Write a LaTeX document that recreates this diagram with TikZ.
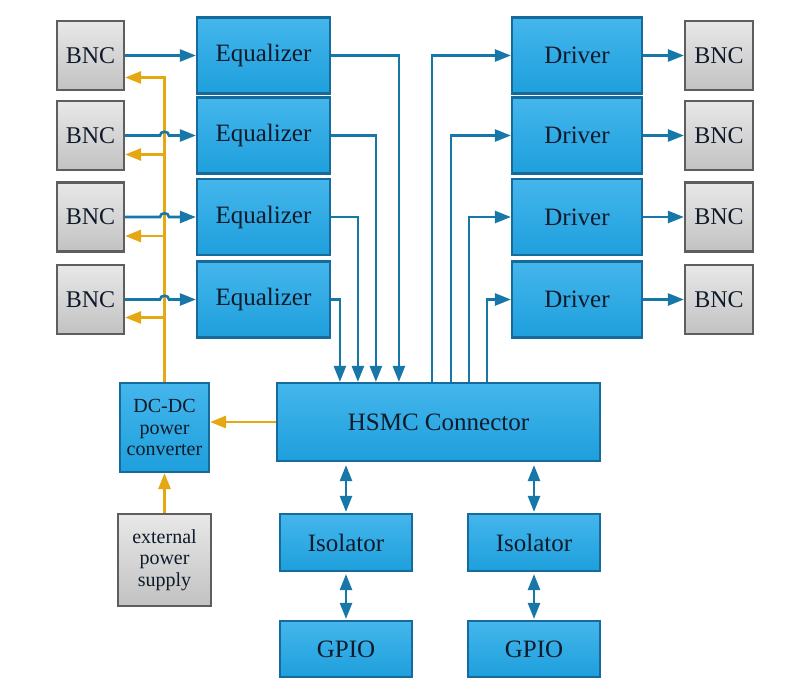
\documentclass[tikz,border=0pt]{standalone}
\usepackage{fontspec}
\setmainfont{Liberation Serif}
\usetikzlibrary{arrows.meta}
\definecolor{bfillT}{HTML}{44B6EC}
\definecolor{bfillB}{HTML}{1E9FDC}
\definecolor{bdraw}{HTML}{176B9C}
\definecolor{gfillT}{HTML}{E8E8E8}
\definecolor{gfillB}{HTML}{C2C2C2}
\definecolor{gdraw}{HTML}{5E5E5E}
\definecolor{lineblue}{HTML}{1777A8}
\definecolor{lineyel}{HTML}{E5A712}
\definecolor{txt}{HTML}{0F1B2A}
\tikzset{
  >={Triangle[length=16pt,width=12pt]},
  bluebox/.style={draw=bdraw, line width=2.2pt, top color=bfillT, bottom color=bfillB,
    text=txt, font=\fontsize{25}{28}\selectfont, inner sep=0pt, align=center},
  graybox/.style={draw=gdraw, line width=2.2pt, top color=gfillT, bottom color=gfillB,
    text=txt, font=\fontsize{24}{28}\selectfont, inner sep=0pt, align=center},
  smalltext/.style={font=\fontsize{20}{21.5}\selectfont},
  bline/.style={draw=lineblue, line width=2.6pt},
  yline/.style={draw=lineyel, line width=2.8pt},
}
\begin{document}
\begin{tikzpicture}[x=1pt,y=-1pt]
\useasboundingbox (0,0) rectangle (800,698);
% rows of BNC / Equalizer / Driver / BNC
\foreach \i/\y in {1/55.5,2/135.5,3/217,4/299.5}{
  \node[graybox, minimum width=67pt, minimum height=69pt] (bncL\i) at (90.5,\y) {BNC};
  \node[bluebox, minimum width=133pt, minimum height=76pt] (eq\i) at (263.5,\y) {Equalizer};
  \node[bluebox, minimum width=130pt, minimum height=76pt] (drv\i) at (577,\y) {Driver};
  \node[graybox, minimum width=68pt, minimum height=69pt] (bncR\i) at (719,\y) {BNC};
}
\node[bluebox, minimum width=323pt, minimum height=78pt] (hsmc) at (438.5,422) {HSMC Connector};
\node[bluebox, smalltext, minimum width=89pt, minimum height=89pt] (dcdc) at (164.5,427.5) {DC-DC\\power\\converter};
\node[graybox, smalltext, minimum width=93pt, minimum height=92pt] (ext) at (164.5,560) {external\\power\\supply};
\node[bluebox, minimum width=132pt, minimum height=57pt] (iso1) at (346,542.5) {Isolator};
\node[bluebox, minimum width=132pt, minimum height=57pt] (iso2) at (534,542.5) {Isolator};
\node[bluebox, minimum width=132pt, minimum height=56pt] (gpio1) at (346,649) {GPIO};
\node[bluebox, minimum width=132pt, minimum height=56pt] (gpio2) at (534,649) {GPIO};

% coordinates on HSMC top edge
\foreach \n/\dx in {i1/123,i2/100,i3/82,i4/64,o1/156,o2/175,o3/193,o4/211}{
  \path (hsmc.north west) ++(\dx,0) coordinate (\n);
}
% yellow power lines
\coordinate (y1) at ([yshift=-22pt]bncL1.east);
\coordinate (y2) at ([yshift=-19pt]bncL2.east);
\coordinate (y3) at ([yshift=-19pt]bncL3.east);
\coordinate (y4) at ([yshift=-18pt]bncL4.east);
\draw[yline,->] (dcdc.north) |- (y1);
\foreach \k in {2,3,4}{
  \draw[yline,->] (dcdc.north |- y\k) -- (y\k);
}
\draw[yline,->] (hsmc.west) -- (hsmc.west -| dcdc.east);
\draw[yline,->] (ext.north) -- (dcdc.south);

% BNC -> Equalizer
\draw[bline,->] (bncL1.east) -- (bncL1.east -| eq1.west);
\foreach \k in {2,3,4}{
  \coordinate (hop\k) at (dcdc.north |- bncL\k.east);
  \draw[bline,->] (bncL\k.east) -- ([xshift=-4.5pt]hop\k)
     .. controls +(0,5pt) and +(0,5pt) .. ([xshift=4.5pt]hop\k)
     -- (hop\k -| eq\k.west);
}
% Equalizer -> HSMC -> Driver -> BNC
\foreach \k in {1,2,3,4}{
  \draw[bline,->] (eq\k.east) -| (i\k);
  \draw[bline,->] (o\k) |- (drv\k.west);
  \draw[bline,->] (drv\k.east) -- (drv\k.east -| bncR\k.west);
}
% HSMC <-> Isolators <-> GPIO
\draw[bline,<->,shorten <=3pt,shorten >=1pt] (hsmc.south -| iso1.north) -- (iso1.north);
\draw[bline,<->,shorten <=3pt,shorten >=1pt] (hsmc.south -| iso2.north) -- (iso2.north);
\draw[bline,<->,shorten <=2pt,shorten >=1pt] (iso1.south) -- (gpio1.north);
\draw[bline,<->,shorten <=2pt,shorten >=1pt] (iso2.south) -- (gpio2.north);
\end{tikzpicture}
\end{document}
